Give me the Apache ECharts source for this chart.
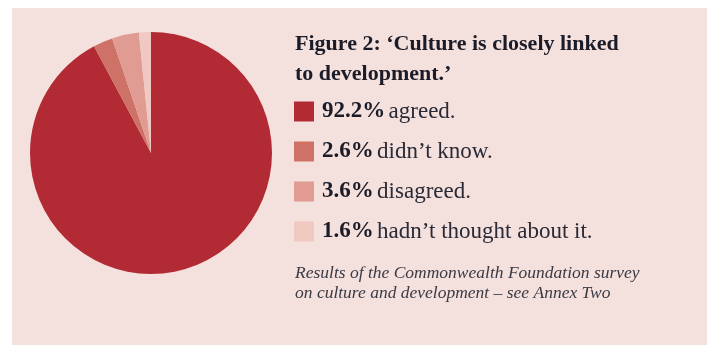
<!DOCTYPE html>
<html>
<head>
<meta charset="utf-8">
<script src="https://cdn.jsdelivr.net/npm/echarts@6/dist/echarts.min.js"></script>
<style>
html,body{margin:0;padding:0;background:#fff;}
#c{width:707px;height:345px;}
</style>
</head>
<body>
<div id="c"></div>
<script>
const categories = ['agreed.', 'didn\u2019t know.', 'disagreed.', 'hadn\u2019t thought about it.'];
const values = [92.2, 2.6, 3.6, 1.6];
const colors = ['#B22A33', '#CE7268', '#E09C93', '#F0C9C3'];
const titleText = 'Figure 2: \u2018Culture is closely linked\nto development.\u2019';
const noteText = 'Results of the Commonwealth Foundation survey\non culture and development \u2013 see Annex Two';

const chart = echarts.init(document.getElementById('c'), null, {renderer: 'canvas'});
const serif = '"Liberation Serif", "DejaVu Serif", serif';
chart.setOption({
  animation: false,
  backgroundColor: '#ffffff',
  graphic: [{
    type: 'rect', z: -10, silent: true,
    shape: {x: 12, y: 8, width: 695, height: 337},
    style: {fill: '#F4E0DC'}
  }],
  title: [{
    text: titleText,
    left: 290, top: 24,
    textStyle: {fontFamily: serif, fontWeight: 'bold', fontSize: 22, lineHeight: 30, color: '#1c1c28'}
  }, {
    text: noteText,
    left: 290, top: 258,
    textStyle: {fontFamily: serif, fontStyle: 'italic', fontWeight: 'normal', fontSize: 17.5, lineHeight: 20, color: '#3a3a44'}
  }],
  legend: {
    orient: 'vertical',
    left: 289, top: 95,
    icon: 'rect',
    itemWidth: 20, itemHeight: 20,
    itemGap: 17,
    data: categories,
    formatter: function (name) {
      const i = categories.indexOf(name);
      return '{b|' + values[i].toFixed(1) + '%} {n|' + name + '}';
    },
    textStyle: {
      padding: [0, 0, 0, 3],
      rich: {
        b: {fontFamily: serif, fontWeight: 'bold', fontSize: 23, color: '#1c1c28'},
        n: {fontFamily: serif, fontSize: 23, color: '#2a2a36'}
      }
    }
  },
  series: [{
    type: 'pie',
    center: [151, 153],
    radius: 121,
    startAngle: 90,
    clockwise: true,
    label: {show: false},
    labelLine: {show: false},
    emphasis: {disabled: true},
    itemStyle: {borderWidth: 0},
    data: categories.map((c, i) => ({name: c, value: values[i], itemStyle: {color: colors[i]}}))
  }]
});
</script>
</body>
</html>
